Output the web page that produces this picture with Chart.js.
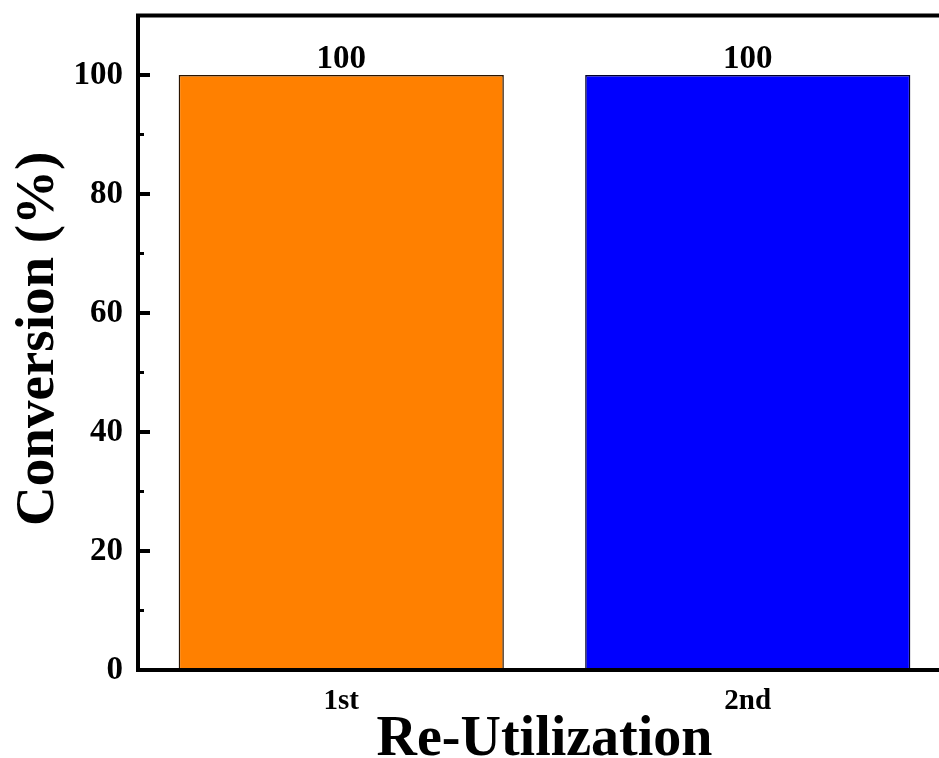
<!DOCTYPE html>
<html>
<head>
<meta charset="utf-8">
<script src="https://cdn.jsdelivr.net/npm/chart.js@4/dist/chart.umd.min.js"></script>
<style>
  html, body { margin: 0; padding: 0; background: #fff; overflow: hidden; width: 939px; height: 758px; }
  #wrap { position: absolute; left: 0; top: 0; width: 960px; height: 758px; }
</style>
</head>
<body>
<div id="wrap"><canvas id="c" width="960" height="758"></canvas></div>
<script>
// Re-use runs and their conversion (%)
const categories = ['1st', '2nd'];
const conversion = [100, 100];
const barColors = ['#FF8000', '#0000FF'];
const barEdges = ['#2a1400', '#00002a'];
const yTicks = [0, 20, 40, 60, 80, 100];
const yMinorTicks = [10, 30, 50, 70, 90];
const xTitle = 'Re-Utilization';
const yTitle = 'Conversion (%)';

const SERIF = '"Liberation Serif", "Times New Roman", serif';

// Axis frame with inward tick marks
const framePlugin = {
  id: 'frame',
  afterDraw(chart) {
    const { ctx, chartArea: a, scales } = chart;
    const y = scales.y;
    ctx.save();
    ctx.strokeStyle = '#000';
    ctx.lineWidth = 4;
    ctx.lineCap = 'square';
    ctx.beginPath();
    ctx.moveTo(a.left, a.bottom);
    ctx.lineTo(a.left, a.top);
    ctx.lineTo(a.right, a.top);
    ctx.lineTo(a.right, a.bottom);
    ctx.closePath();
    ctx.stroke();
    ctx.lineCap = 'butt';
    ctx.lineWidth = 4;
    yTicks.forEach(v => {
      const py = y.getPixelForValue(v);
      ctx.beginPath();
      ctx.moveTo(a.left, py);
      ctx.lineTo(a.left + 12, py);
      ctx.stroke();
    });
    ctx.lineWidth = 3;
    yMinorTicks.forEach(v => {
      const py = y.getPixelForValue(v);
      ctx.beginPath();
      ctx.moveTo(a.left, py);
      ctx.lineTo(a.left + 6, py);
      ctx.stroke();
    });
    ctx.restore();
  }
};

// Value labels above bars and axis titles
const labelPlugin = {
  id: 'labels',
  afterDraw(chart) {
    const { ctx, chartArea: a } = chart;
    ctx.save();
    ctx.fillStyle = '#000';
    ctx.font = 'bold 33px ' + SERIF;
    ctx.textAlign = 'center';
    ctx.textBaseline = 'alphabetic';
    const meta = chart.getDatasetMeta(0);
    meta.data.forEach((bar, i) => {
      ctx.fillText(String(conversion[i]), bar.x, bar.y - 7);
    });

    ctx.font = 'bold 56px ' + SERIF;
    ctx.fillText(xTitle, (a.left + a.right) / 2, 755);

    ctx.translate(53, (a.top + a.bottom) / 2 - 4);
    ctx.rotate(-Math.PI / 2);
    ctx.font = 'bold 55px ' + SERIF;
    ctx.fillText(yTitle, 0, 0);
    ctx.restore();
  }
};

new Chart(document.getElementById('c'), {
  type: 'bar',
  data: {
    labels: categories,
    datasets: [{
      data: conversion,
      backgroundColor: barColors,
      borderColor: barEdges,
      borderWidth: 1.5,
      barPercentage: 0.8,
      categoryPercentage: 1.0
    }]
  },
  options: {
    responsive: false,
    animation: false,
    devicePixelRatio: 1,
    layout: { padding: { top: 15.5, right: 9, left: 0, bottom: 0 } },
    plugins: { legend: { display: false }, tooltip: { enabled: false } },
    scales: {
      x: {
        grid: { display: false, drawTicks: false },
        border: { display: false },
        ticks: { color: '#000', font: { family: SERIF, size: 29, weight: 'bold' }, padding: 14 },
        afterFit(scale) { scale.height = 88; scale.paddingLeft = 0; scale.paddingRight = 0; }
      },
      y: {
        min: 0,
        max: 110,
        grid: { display: false, drawTicks: false },
        border: { display: false },
        afterBuildTicks(scale) { scale.ticks = yTicks.map(v => ({ value: v })); },
        ticks: { color: '#000', font: { family: SERIF, size: 33, weight: 'bold' }, padding: 15 },
        afterFit(scale) { scale.width = 138; scale.paddingTop = 0; scale.paddingBottom = 0; }
      }
    }
  },
  plugins: [framePlugin, labelPlugin]
});
</script>
</body>
</html>
